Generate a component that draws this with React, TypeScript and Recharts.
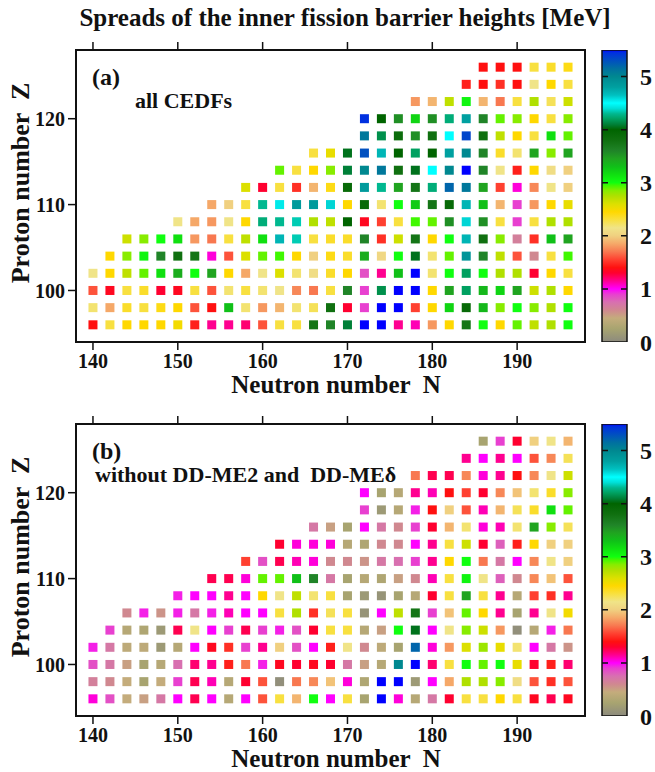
import React from 'react';
import {
  ScatterChart,
  Scatter,
  XAxis,
  YAxis,
  ReferenceArea,
  BarChart,
  Bar,
  ReferenceLine,
} from 'recharts';

// Even-even nuclei: proton rows and the first neutron number of each row
const protonNumbers = [96, 98, 100, 102, 104, 106, 108, 110, 112, 114, 116, 118, 120, 122, 124, 126];
const firstNeutron = [140, 140, 140, 140, 142, 144, 150, 154, 158, 162, 166, 172, 172, 178, 184, 186];
const neutronTicks = [140, 150, 160, 170, 180, 190];
const protonTicks = [100, 110, 120];
const colorbarTicks = [0, 1, 2, 3, 4, 5];

// Spread of inner barrier heights [MeV], one row per Z, neutron step 2
const spreadsAllCEDFs: number[][] = [
  [1.4, 2.3, 2.45, 2.45, 2.45, 2.5, 1.45, 1.15, 1.15, 1.2, 1.6, 2.3, 2.3, 3.75, 3.6, 4.1, 5.5, 5.5, 1.15, 1.1, 1.8, 2.45, 3.75, 3.0, 2.45, 2.9, 2.7, 2.75, 3.0],
  [2.2, 1.85, 2.35, 2.3, 2.4, 2.45, 1.6, 1.4, 3.3, 2.2, 1.8, 1.9, 2.2, 2.25, 3.8, 1.3, 0.9, 5.5, 5.5, 1.55, 2.45, 3.2, 3.9, 3.35, 2.85, 3.0, 2.85, 2.75, 3.0],
  [1.6, 1.35, 2.3, 2.35, 1.3, 1.35, 2.3, 1.6, 2.2, 2.3, 2.2, 2.15, 1.75, 1.7, 2.3, 3.6, 0.9, 4.15, 5.5, 5.5, 2.45, 3.45, 4.2, 3.35, 3.2, 3.45, 2.65, 2.75, 2.45],
  [2.15, 2.45, 2.7, 2.9, 3.15, 3.4, 3.0, 3.45, 2.45, 1.85, 2.15, 2.6, 2.2, 2.1, 2.35, 2.45, 0.85, 1.15, 3.3, 5.5, 2.2, 3.0, 4.2, 3.0, 2.75, 2.75, 1.3, 2.45, 2.3],
  [2.45, 2.85, 3.05, 3.6, 3.8, 3.75, 1.05, 1.6, 2.6, 2.9, 2.95, 2.45, 2.0, 2.4, 2.35, 3.4, 2.05, 3.0, 4.05, 2.2, 2.9, 4.9, 3.6, 2.7, 1.6, 0.6, 2.3, 2.95],
  [2.65, 2.85, 3.0, 3.15, 1.8, 1.7, 2.3, 2.7, 3.15, 4.7, 4.35, 2.3, 2.35, 2.35, 3.6, 1.5, 2.65, 3.75, 2.45, 3.0, 4.7, 3.8, 2.85, 0.65, 1.5, 3.3, 3.45],
  [2.15, 1.85, 1.8, 2.15, 2.45, 4.25, 4.3, 4.35, 2.75, 2.7, 4.0, 1.35, 1.55, 2.3, 2.95, 2.9, 3.55, 4.6, 3.55, 2.3, 0.9, 2.3, 2.75, 2.75],
  [1.85, 2.0, 2.3, 4.3, 4.55, 4.85, 4.85, 4.6, 2.45, 3.9, 2.2, 3.0, 3.25, 3.75, 3.9, 4.7, 3.3, 1.9, 0.9, 1.8, 2.45, 2.55],
  [2.6, 1.3, 2.3, 1.5, 1.9, 2.4, 3.9, 4.85, 4.3, 3.45, 3.75, 4.25, 5.2, 5.1, 3.45, 1.55, 1.05, 1.75, 2.15, 2.0],
  [2.9, 2.3, 2.45, 2.85, 4.1, 5.0, 5.1, 3.8, 4.05, 4.5, 5.0, 5.5, 3.6, 2.15, 1.45, 2.45, 2.1, 2.0],
  [2.3, 2.55, 4.05, 5.3, 4.7, 4.0, 4.2, 4.0, 4.8, 5.0, 3.6, 2.35, 2.2, 3.45, 2.85, 3.45],
  [5.1, 4.15, 3.85, 3.55, 3.8, 4.5, 5.35, 3.8, 2.7, 2.45, 2.3, 3.15, 2.9],
  [5.45, 4.0, 3.55, 3.2, 3.55, 4.25, 4.8, 3.6, 2.9, 2.85, 2.45, 2.3, 2.85],
  [1.8, 1.9, 2.7, 3.05, 1.9, 1.7, 2.3, 2.75, 2.25, 2.65],
  [1.45, 1.4, 1.5, 1.4, 2.15, 2.45, 2.3],
  [1.4, 1.4, 1.4, 2.3, 2.35, 2.4],
];

const spreadsWithoutDDME: number[][] = [
  [1.05, 0.85, 0.45, 0.5, 0.7, 1.0, 1.25, 1.0, 0.35, 1.0, 1.6, 2.3, 1.9, 3.0, 1.0, 2.3, 0.25, 5.5, 1.05, 0.35, 0.7, 1.3, 2.3, 2.3, 2.45, 2.3, 1.35, 1.25, 1.35],
  [0.65, 0.6, 0.45, 0.25, 0.45, 0.9, 1.25, 1.1, 0.35, 1.3, 1.6, 0.05, 1.7, 1.75, 1.95, 1.05, 0.3, 5.5, 5.5, 0.15, 1.0, 1.85, 2.75, 2.75, 2.85, 2.1, 1.6, 1.5, 1.6],
  [0.85, 0.7, 0.5, 0.25, 0.35, 0.75, 1.2, 1.15, 1.45, 1.7, 0.95, 1.35, 1.3, 1.35, 1.3, 0.7, 0.5, 0.35, 5.0, 5.5, 1.2, 2.3, 3.0, 2.9, 3.0, 2.55, 1.3, 1.45, 1.2],
  [0.95, 0.7, 0.4, 0.4, 0.15, 0.35, 1.0, 1.35, 1.5, 0.9, 1.15, 2.0, 0.85, 1.0, 1.45, 2.15, 0.6, 0.4, 0.25, 5.2, 1.05, 1.8, 2.6, 2.8, 2.55, 2.2, 1.0, 0.7, 0.55],
  [0.9, 0.35, 0.3, 0.15, 1.25, 2.15, 1.0, 0.9, 1.25, 0.9, 0.95, 0.85, 1.3, 2.3, 2.3, 0.35, 0.5, 3.0, 4.05, 1.0, 2.15, 2.85, 2.65, 1.8, 0.05, 0.35, 0.95, 1.7],
  [0.6, 0.95, 0.55, 0.95, 0.7, 0.95, 1.1, 1.0, 1.0, 2.3, 2.75, 1.5, 2.25, 2.3, 0.1, 1.0, 2.7, 3.75, 0.9, 1.95, 2.9, 2.45, 1.15, 0.25, 1.15, 2.15, 2.5],
  [0.95, 1.0, 1.0, 1.15, 1.0, 2.45, 2.15, 2.7, 2.2, 2.3, 0.25, 0.15, 0.1, 0.25, 0.35, 1.3, 2.3, 3.45, 2.3, 1.15, 0.35, 1.55, 1.5, 1.15],
  [1.25, 1.25, 1.05, 2.9, 2.9, 3.3, 3.6, 0.7, 0.25, 0.35, 0.3, 0.5, 0.6, 1.1, 2.3, 3.05, 2.15, 0.8, 0.6, 1.75, 1.95, 1.6],
  [1.55, 0.85, 1.25, 1.1, 1.05, 0.6, 0.6, 0.55, 0.7, 0.75, 0.9, 1.15, 2.45, 3.0, 1.7, 0.7, 1.0, 1.75, 2.15, 2.0],
  [1.3, 1.05, 1.05, 1.05, 0.35, 0.3, 0.6, 0.6, 1.0, 1.15, 2.3, 2.65, 1.3, 0.8, 1.45, 2.45, 2.0, 2.0],
  [0.7, 0.5, 0.25, 1.0, 0.7, 0.6, 0.9, 1.3, 1.9, 2.2, 1.05, 1.1, 2.2, 3.45, 2.85, 2.25],
  [0.9, 0.15, 0.35, 0.95, 1.4, 2.0, 1.6, 1.1, 1.9, 2.25, 2.35, 3.15, 2.9],
  [1.0, 0.25, 0.35, 1.15, 1.1, 1.4, 1.55, 1.3, 1.75, 1.95, 2.2, 2.35, 2.85],
  [1.7, 1.25, 1.25, 1.75, 1.05, 1.15, 1.4, 1.75, 2.15, 2.65],
  [1.15, 1.0, 1.15, 1.0, 1.6, 1.75, 2.25],
  [0.25, 0.9, 1.3, 2.0, 2.15, 1.9],
];

// Colour scale (value in MeV -> colour)
const colorStops: [number, string][] = [
  [0.0, '#8c8a7e'],
  [0.25, '#a8a470'],
  [0.45, '#c4ac7c'],
  [0.6, '#d08890'],
  [0.75, '#d870b0'],
  [0.9, '#e840d0'],
  [1.0, '#ff00ff'],
  [1.15, '#ff0090'],
  [1.3, '#ff0030'],
  [1.4, '#ff1010'],
  [1.55, '#ff4030'],
  [1.7, '#f87850'],
  [1.85, '#f5a868'],
  [2.0, '#f0d080'],
  [2.15, '#f0e488'],
  [2.3, '#f8e040'],
  [2.45, '#ffd800'],
  [2.6, '#dce000'],
  [2.75, '#b0e000'],
  [2.85, '#88ec00'],
  [2.95, '#40f800'],
  [3.0, '#10ff10'],
  [3.15, '#10e010'],
  [3.3, '#10c018'],
  [3.45, '#20a420'],
  [3.6, '#208428'],
  [3.8, '#107010'],
  [4.0, '#006400'],
  [4.1, '#008038'],
  [4.2, '#00a060'],
  [4.3, '#00b890'],
  [4.4, '#00e0d8'],
  [4.5, '#00ffff'],
  [4.65, '#00c0c0'],
  [4.8, '#00a0a0'],
  [5.0, '#008890'],
  [5.15, '#0070a0'],
  [5.3, '#0050c0'],
  [5.45, '#0030e0'],
  [5.5, '#0000ff'],
];

const V_MAX = 5.5;
const FONT = '"Liberation Serif", "DejaVu Serif", serif';
const INK = '#111';

function hexToRgb(h: string): number[] {
  return [1, 3, 5].map((i) => parseInt(h.slice(i, i + 2), 16));
}

function colorFor(v: number): string {
  if (v <= colorStops[0][0]) return colorStops[0][1];
  for (let i = 1; i < colorStops.length; i++) {
    const [v1, c1] = colorStops[i];
    if (v <= v1) {
      const [v0, c0] = colorStops[i - 1];
      const t = (v - v0) / (v1 - v0);
      const a = hexToRgb(c0);
      const b = hexToRgb(c1);
      const rgb = a.map((x, k) => Math.round(x + (b[k] - x) * t));
      return `rgb(${rgb[0]},${rgb[1]},${rgb[2]})`;
    }
  }
  return colorStops[colorStops.length - 1][1];
}

function toPoints(rows: number[][]) {
  return rows.flatMap((row, i) =>
    row.map((v, j) => ({ n: firstNeutron[i] + 2 * j, z: protonNumbers[i], v }))
  );
}

const SQUARE = 9;

function NucleusSquare(props: any) {
  const { cx, cy, payload } = props;
  if (cx == null || cy == null) return null;
  return (
    <rect
      x={cx - SQUARE / 2}
      y={cy - SQUARE / 2}
      width={SQUARE}
      height={SQUARE}
      fill={colorFor(payload.v)}
    />
  );
}

const tickText = { fontSize: 20, fontWeight: 700, fill: INK, fontFamily: FONT };
const tickLineStyle = { stroke: INK, strokeWidth: 1.5 };

function BarrierMap({ rows }: { rows: number[][] }) {
  const points = toPoints(rows);
  return (
    <ScatterChart width={655} height={400} margin={{ top: 42, right: 70, bottom: 0, left: 26 }}>
      <XAxis
        xAxisId="top"
        orientation="top"
        type="number"
        dataKey="n"
        domain={[138, 198]}
        ticks={neutronTicks}
        tickSize={8}
        height={8}
        axisLine={false}
        tickLine={tickLineStyle}
        tickFormatter={() => ''}
        allowDataOverflow
      />
      <XAxis
        type="number"
        dataKey="n"
        domain={[138, 198]}
        ticks={neutronTicks}
        tickSize={8}
        tickMargin={4}
        height={58}
        axisLine={false}
        tickLine={tickLineStyle}
        tick={tickText}
        allowDataOverflow
      />
      <YAxis
        type="number"
        dataKey="z"
        domain={[94, 128]}
        ticks={protonTicks}
        tickSize={8}
        tickMargin={3}
        width={50}
        axisLine={false}
        tickLine={tickLineStyle}
        tick={tickText}
        allowDataOverflow
      />
      <ReferenceArea
        x1={138}
        x2={198}
        y1={94}
        y2={128}
        fill="none"
        fillOpacity={0}
        stroke={INK}
        strokeWidth={2}
        ifOverflow="visible"
      />
      <Scatter data={points} isAnimationActive={false} shape={NucleusSquare} />
    </ScatterChart>
  );
}

function ColorBar({ id }: { id: string }) {
  const gradientShape = (props: any) => {
    const { x, y, width, height } = props;
    return (
      <g>
        <defs>
          <linearGradient id={id} x1="0" y1="1" x2="0" y2="0">
            {colorStops.map(([v, c]) => (
              <stop key={v} offset={v / V_MAX} stopColor={c} />
            ))}
          </linearGradient>
        </defs>
        <rect x={x} y={y} width={width} height={height} fill={`url(#${id})`} stroke={INK} strokeWidth={1.5} />
      </g>
    );
  };
  return (
    <BarChart
      width={60}
      height={400}
      data={[{ k: 'scale', v: V_MAX }]}
      margin={{ top: 50, right: 0, bottom: 58, left: 7 }}
      barCategoryGap={0}
    >
      <XAxis dataKey="k" type="category" hide />
      <YAxis
        orientation="right"
        type="number"
        domain={[0, V_MAX]}
        ticks={colorbarTicks}
        width={28}
        axisLine={false}
        tickLine={false}
        tickMargin={7}
        tick={{ fontSize: 24, fontWeight: 700, fill: INK, fontFamily: FONT }}
        allowDataOverflow
      />
      <Bar dataKey="v" isAnimationActive={false} shape={gradientShape} />
      {[1, 2, 3, 4, 5].map((t) => (
        <ReferenceLine key={t} y={t} stroke={INK} strokeWidth={1.5} strokeDasharray="6 13" />
      ))}
    </BarChart>
  );
}

const boldText: React.CSSProperties = {
  position: 'absolute',
  fontFamily: FONT,
  fontWeight: 700,
  color: INK,
  lineHeight: 1,
  whiteSpace: 'pre',
};

function Panel({
  top,
  rows,
  tag,
  note,
  noteLeft,
  barId,
}: {
  top: number;
  rows: number[][];
  tag: string;
  note: string;
  noteLeft: number;
  barId: string;
}) {
  return (
    <>
      <div style={{ position: 'absolute', left: 0, top, width: 655, height: 400 }}>
        <BarrierMap rows={rows} />
      </div>
      <div style={{ position: 'absolute', left: 595, top, width: 60, height: 400 }}>
        <ColorBar id={barId} />
      </div>
      <div style={{ ...boldText, left: 92, top: top + 65, fontSize: 24 }}>{tag}</div>
      <div style={{ ...boldText, left: noteLeft, top: top + 90, fontSize: 22 }}>{note}</div>
      <div
        style={{
          ...boldText,
          left: 0,
          width: 672,
          textAlign: 'center',
          top: top + 375,
          fontSize: 25,
          lineHeight: 0.8,
        }}
      >
        {'Neutron number  N'}
      </div>
      <div
        style={{
          ...boldText,
          left: 21,
          top: top + 183,
          fontSize: 26,
          transform: 'translate(-50%, -50%) rotate(-90deg)',
        }}
      >
        {'Proton number  Z'}
      </div>
    </>
  );
}

export default function App() {
  return (
    <div
      style={{
        position: 'absolute',
        left: 0,
        top: 0,
        width: 655,
        height: 772,
        background: '#fff',
        fontFamily: FONT,
        overflow: 'hidden',
      }}
    >
      <div style={{ ...boldText, left: 0, width: 690, textAlign: 'center', top: 5, fontSize: 25 }}>
        Spreads of the inner fission barrier heights [MeV]
      </div>
      <Panel top={0} rows={spreadsAllCEDFs} tag="(a)" note="all CEDFs" noteLeft={135} barId="scaleA" />
      <Panel
        top={374}
        rows={spreadsWithoutDDME}
        tag="(b)"
        note={'without DD-ME2 and  DD-MEδ'}
        noteLeft={95}
        barId="scaleB"
      />
    </div>
  );
}
